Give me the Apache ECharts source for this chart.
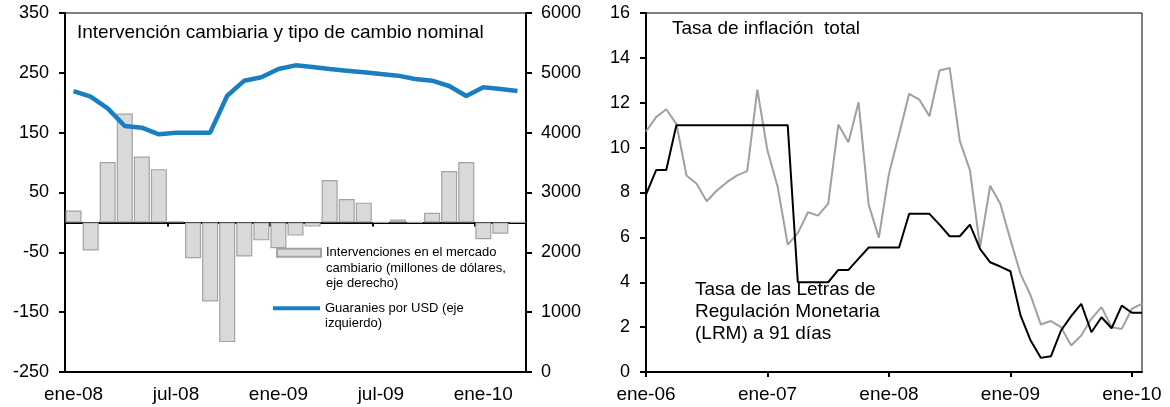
<!DOCTYPE html>
<html>
<head>
<meta charset="utf-8">
<script src="https://cdn.jsdelivr.net/npm/echarts@6/dist/echarts.min.js"></script>
<style>
  html, body { margin: 0; padding: 0; background: #fff; }
  #chart { width: 1170px; height: 407px; }
</style>
</head>
<body>
<div id="chart"></div>
<script>
// panel izquierdo: enero 2008 - marzo 2010
const mesesIzq = ['ene-08','feb-08','mar-08','abr-08','may-08','jun-08','jul-08','ago-08','sep-08','oct-08','nov-08','dic-08',
    'ene-09','feb-09','mar-09','abr-09','may-09','jun-09','jul-09','ago-09','sep-09','oct-09','nov-09','dic-09',
    'ene-10','feb-10','mar-10'];
const intervenciones = [20, -47, 101, 182, 110, 89, 2, -60, -132, -200, -57, -30,
    -43, -22, -7, 71, 39, 33, 0, 5, 0, 16, 86, 101, -28, -19, 0];
const guaranies = [4696, 4601, 4407, 4111, 4083, 3972, 4000, 4000, 4000, 4618, 4869, 4925,
    5064, 5125, 5097, 5064, 5036, 5008, 4980, 4953, 4897, 4869, 4780, 4613, 4758, 4730, 4696];

// panel derecho: enero 2006 - febrero 2010
const abrev = ['ene','feb','mar','abr','may','jun','jul','ago','sep','oct','nov','dic'];
const mesesDer = [];
for (let y = 6; y <= 10; y++) {
    abrev.forEach(m => mesesDer.push(m + '-' + String(y).padStart(2, '0')));
}
mesesDer.length = 50;
const inflacion = [10.72, 11.36, 11.71, 11.06, 8.76, 8.39, 7.61, 8.09, 8.46, 8.76,
    8.95, 12.58, 9.87, 8.27, 5.68, 6.19, 7.12, 6.97, 7.5, 11.03,
    10.24, 12.02, 7.46, 5.98, 8.83, 10.6, 12.4, 12.14, 11.4, 13.44,
    13.55, 10.3, 9.0, 5.56, 8.3, 7.5, 5.9, 4.37, 3.41, 2.12,
    2.27, 2.0, 1.18, 1.63, 2.37, 2.89, 2.0, 1.92, 2.82, 3.04];
const tasaLRM = [7.9, 9, 9, 11, 11, 11, 11, 11, 11, 11,
    11, 11, 11, 11, 11, 4, 4, 4, 4, 4.55,
    4.55, 5.05, 5.55, 5.55, 5.55, 5.55, 7.05, 7.05, 7.05, 6.57,
    6.05, 6.05, 6.57, 5.49, 4.89, 4.7, 4.49, 2.52, 1.4, 0.63,
    0.7, 1.85, 2.49, 3.04, 1.77, 2.44, 1.95, 2.96, 2.64, 2.64];

const nombreBarras = 'Intervenciones en el mercado\ncambiario (millones de dólares,\neje derecho)';
const nombreLinea = 'Guaranies por USD (eje\nizquierdo)';

const font = 'Liberation Sans, Arial, sans-serif';
const negro = '#000';
const labelY = { color: negro, fontSize: 18, fontFamily: font };
const labelX = { color: negro, fontSize: 19, fontFamily: font };
const tituloStyle = { fontSize: 19, fontWeight: 'normal', color: negro, fontFamily: font };

const chart = echarts.init(document.getElementById('chart'));
chart.setOption({
    animation: false,
    textStyle: { fontFamily: font },
    title: [
        { text: 'Intervención cambiaria y tipo de cambio nominal', left: 77, top: 23, padding: 0,
          textStyle: tituloStyle },
        { text: 'Tasa de inflación  total', left: 672, top: 19, padding: 0, textStyle: tituloStyle },
        { text: 'Tasa de las Letras de\nRegulación Monetaria\n(LRM) a 91 días', left: 695, top: 279, padding: 0,
          textStyle: Object.assign({ lineHeight: 22 }, tituloStyle) }
    ],
    // lineas vacias delante para que el icono quede en la primera linea
    legend: [
        { data: [nombreBarras], left: 276, top: 214, padding: 0, orient: 'vertical',
          icon: 'rect', itemWidth: 44, itemHeight: 8, formatter: n => '\n\n' + n,
          textStyle: { fontSize: 13, lineHeight: 15.5, color: negro } },
        { data: [nombreLinea], left: 273, top: 285, padding: 0, orient: 'vertical',
          icon: 'rect', itemWidth: 47, itemHeight: 4, formatter: n => '\n' + n,
          textStyle: { fontSize: 13, lineHeight: 15.5, color: negro } }
    ],
    grid: [
        { left: 65, right: 644, top: 13, bottom: 35, show: true, borderColor: negro, borderWidth: 1 },
        { left: 646, right: 28, top: 13, bottom: 35, show: true, borderColor: negro, borderWidth: 1 }
    ],
    xAxis: [
        // eje en cero con marcas semestrales
        { type: 'category', gridIndex: 0, data: mesesIzq,
          axisLine: { onZero: true, onZeroAxisIndex: 0, lineStyle: { color: negro, width: 2 } },
          axisTick: { show: true, interval: 5, length: 4, lineStyle: { color: negro, width: 2 } },
          axisLabel: { show: false }, splitLine: { show: false } },
        // etiquetas abajo
        { type: 'category', gridIndex: 0, data: mesesIzq, position: 'bottom',
          axisLine: { onZero: false, lineStyle: { color: negro, width: 2 } },
          axisTick: { show: false },
          axisLabel: Object.assign({ interval: 5, margin: 13 }, labelX), splitLine: { show: false } },
        { type: 'category', gridIndex: 1, data: mesesDer, boundaryGap: false,
          axisLine: { lineStyle: { color: negro, width: 2 } },
          axisTick: { show: true, interval: 11, length: 5, lineStyle: { color: negro, width: 2 } },
          axisLabel: Object.assign({ interval: 11, margin: 13 }, labelX), splitLine: { show: false } }
    ],
    yAxis: [
        // escala de las barras (millones USD)
        { type: 'value', gridIndex: 0, min: -250, max: 350, position: 'left',
          axisLine: { show: true, lineStyle: { color: negro, width: 2 } },
          axisTick: { show: false }, axisLabel: { show: false }, splitLine: { show: false } },
        // guaranies por USD
        { type: 'value', gridIndex: 0, min: 0, max: 6000, interval: 1000, position: 'right',
          axisLine: { show: true, lineStyle: { color: negro, width: 2 } },
          axisTick: { show: true, length: 6, lineStyle: { color: negro, width: 2 } },
          axisLabel: Object.assign({ margin: 15, formatter: v => String(v) }, labelY), splitLine: { show: false } },
        // solo para las etiquetas -250 ... 350
        { type: 'value', gridIndex: 0, min: 0, max: 600, interval: 100, position: 'left',
          axisLine: { show: false },
          axisTick: { show: true, length: 6, lineStyle: { color: negro, width: 2 } },
          axisLabel: Object.assign({ margin: 16, formatter: v => String(v - 250) }, labelY),
          splitLine: { show: false } },
        { type: 'value', gridIndex: 1, min: 0, max: 16, interval: 2,
          axisLine: { show: true, lineStyle: { color: negro, width: 2 } },
          axisTick: { show: true, length: 6, lineStyle: { color: negro, width: 2 } },
          axisLabel: Object.assign({ margin: 16 }, labelY), splitLine: { show: false } }
    ],
    series: [
        { name: nombreBarras, type: 'bar', xAxisIndex: 0, yAxisIndex: 0, data: intervenciones,
          barCategoryGap: '6%',
          itemStyle: { color: '#d9d9d9', borderColor: '#a3a3a3', borderWidth: 1.2 } },
        { name: nombreLinea, type: 'line', xAxisIndex: 0, yAxisIndex: 1, data: guaranies,
          symbol: 'none', lineStyle: { color: '#1a7fc1', width: 4.5 }, itemStyle: { color: '#1a7fc1' } },
        { name: 'Inflación', type: 'line', xAxisIndex: 2, yAxisIndex: 3, data: inflacion,
          symbol: 'none', lineStyle: { color: '#a0a0a0', width: 2 } },
        { name: 'LRM', type: 'line', xAxisIndex: 2, yAxisIndex: 3, data: tasaLRM,
          symbol: 'none', lineStyle: { color: '#000', width: 2 } }
    ]
});
window.addEventListener('resize', () => chart.resize());
</script>
</body>
</html>
